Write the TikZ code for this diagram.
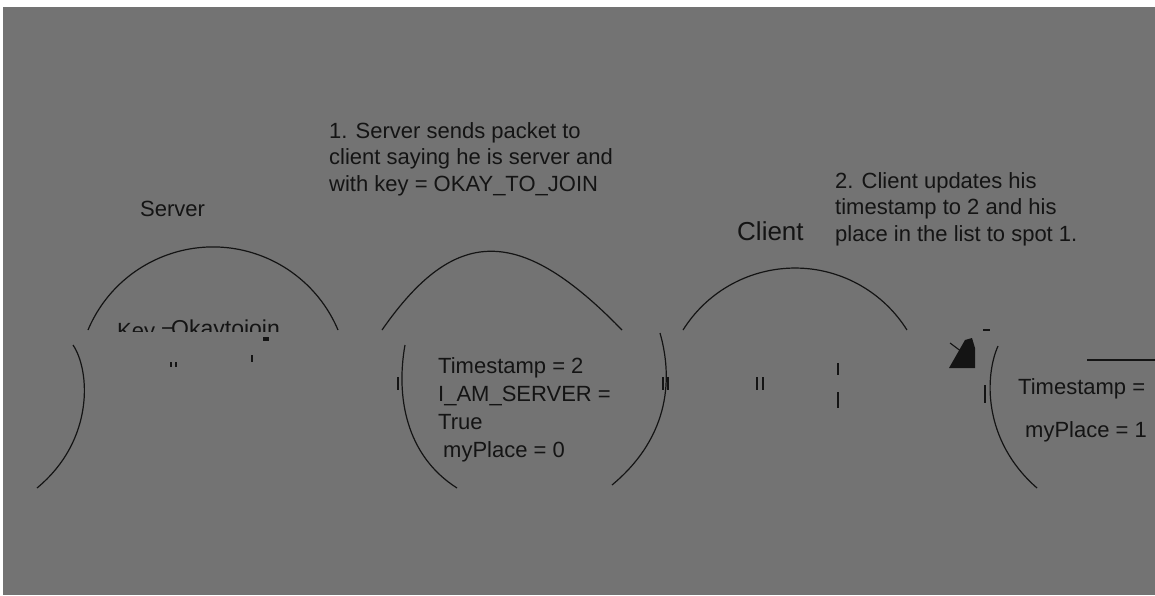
\documentclass[tikz,border=0pt]{standalone}
\usepackage{fontspec}
\setmainfont{Liberation Sans}
\definecolor{bggray}{RGB}{115,115,115}
\definecolor{ink}{RGB}{20,20,20}
\tikzset{
  ln/.style={draw=ink, line width=1.2pt},
  tick/.style={draw=ink, line width=1.1pt},
  lbl/.style={inner sep=0pt, anchor=base west, text=ink, font=\fontsize{22}{26.5}\selectfont, align=left},
}
\begin{document}
\begin{tikzpicture}[x=1pt,y=-1pt]
\useasboundingbox (0,0) rectangle (1155,595);
\fill[white] (0,0) rectangle (1155,595);
\fill[bggray] (3,7) rectangle (1155,595);
\begin{scope}
\clip (3,7) rectangle (1155,595);

% upper arcs
\coordinate (sa) at (88,330);
\coordinate (ma) at (382,330);
\coordinate (mb) at (622,330);
\coordinate (ca) at (683,330);
\draw[ln] (sa) arc[start angle=202.8, end angle=337.2, radius=135.6];
\draw[ln] (ma) .. controls (455,225) and (520,225) .. (mb);
\draw[ln] (ca) arc[start angle=212.1, end angle=327.9, radius=132.2];

% lower arcs
\coordinate (l1a) at (73,345);  \coordinate (l1b) at (37,488);
\coordinate (l2a) at (405,345); \coordinate (l2b) at (457,488);
\coordinate (l2c) at (660,333); \coordinate (l2d) at (612,485);
\coordinate (l3a) at (998,346); \coordinate (l3b) at (1037,488);
\draw[ln] (l1a) .. controls (90,370) and (95,440) .. (l1b);
\draw[ln] (l2a) .. controls (396,395) and (405,455) .. (l2b);
\draw[ln] (l2c) .. controls (672,375) and (672,435) .. (l2d);
\draw[ln] (l3a) .. controls (985,375) and (982,440) .. (l3b);

% arrow head
\fill[ink] (949,368) -- (975,368) -- (975,348) -- (972,338) -- (965,340) -- cycle;
\coordinate (ah1) at (950,343); \coordinate (ah2) at (962,352);
\draw[tick] (ah1) -- (ah2);
\coordinate (ds1) at (983,330); \coordinate (ds2) at (990,330);
\draw[tick] (ds1) -- (ds2);
\coordinate (ul1) at (1087,360); \coordinate (ul2) at (1155,360);
\draw[tick] (ul1) -- (ul2);

% ticks
\foreach \x/\ya/\yb in {398/377/390, 663/377/390, 668/377/390, 757/377/390, 763/377/390,
  838/363/375, 838/392/408, 985/385/403, 171/362/367, 176/362/367, 252/355/362}
  {\draw[tick] (\x,\ya) -- (\x,\yb);}
\fill[ink] (263,337) rectangle (269,341);

% labels
\node[lbl] (server) at (140,216) {Server};
\node[lbl] (note1) at (329,191) {1. Server sends packet to\\client saying he is server and\\with key = OKAY\_TO\_JOIN};
\node[lbl, font=\fontsize{26}{30}\selectfont] (client) at (737,240) {Client};
\node[lbl] (note2) at (835,241) {2. Client updates his\\timestamp to 2 and his\\place in the list to spot 1.};

\begin{scope}
\clip (100,300) rectangle (300,331);
\node[lbl, font=\fontsize{23}{26}\selectfont] (okay) at (171,336) {Okaytojoin};
\node[lbl] (keyeq) at (117,338) {Key =};
\end{scope}

\node[lbl, font=\fontsize{22}{28}\selectfont] (sstate) at (438,457)
  {Timestamp = 2\\I\_AM\_SERVER =\\True\\\hspace{5pt}myPlace = 0};
\node[lbl] (cts) at (1018,394) {Timestamp =};
\node[lbl] (cpl) at (1025,437) {myPlace = 1};
\end{scope}
\end{tikzpicture}
\end{document}
